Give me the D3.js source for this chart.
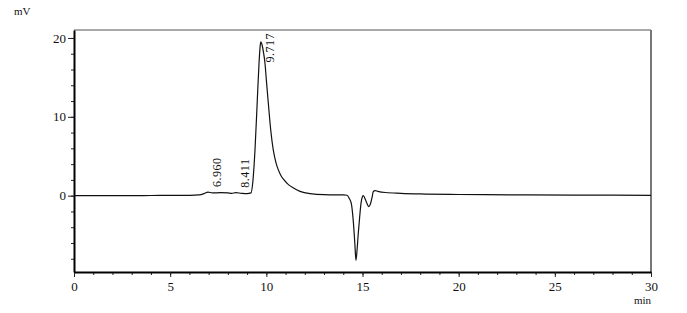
<!DOCTYPE html>
<html>
<head>
<meta charset="utf-8">
<script src="https://cdn.jsdelivr.net/npm/d3@7"></script>
<style>
  body { margin: 0; background: #fff; }
  svg { display: block; }
  text { font-family: "Liberation Serif", "DejaVu Serif", serif; fill: #111; }
</style>
</head>
<body>
<div id="chromatogram"></div>
<script>
// detector signal (mV) against retention time (min)
var times = [0, 1, 2, 3, 4, 5, 6, 6.5, 6.8, 6.96, 7.2, 7.6, 8.0, 8.2, 8.411, 8.7, 9.0, 9.2,
    9.3, 9.41, 9.53, 9.62, 9.68, 9.717, 9.77, 9.85, 9.93, 10.01, 10.09, 10.23, 10.36, 10.5,
    10.62, 10.75, 10.92, 11.15, 11.39, 11.75, 12.27, 13.0, 14.0, 14.2, 14.3, 14.42, 14.52,
    14.6, 14.66, 14.72, 14.78, 14.85, 14.92, 15.0, 15.04, 15.15, 15.25, 15.33, 15.42, 15.5,
    15.56, 15.65, 15.8, 16.2, 17.0, 18.0, 20, 23, 26, 30];
var signal = [0, 0, 0, 0, 0.02, 0.03, 0.05, 0.1, 0.3, 0.45, 0.35, 0.38, 0.35, 0.3, 0.38, 0.3, 0.25, 0.35,
    1.8, 5.8, 12.1, 16.8, 19.0, 19.5, 19.2, 18.2, 16.8, 14.4, 12.1, 8.3, 5.8, 4.2,
    3.3, 2.6, 2.0, 1.4, 1.0, 0.55, 0.25, 0.12, 0.1, 0.05, -0.3, -1.0, -3.2,
    -6.0, -8.2, -6.8, -4.8, -2.8, -1.0, -0.1, 0.0, -0.5, -1.1, -1.4, -1.0, -0.2,
    0.5, 0.65, 0.55, 0.4, 0.3, 0.22, 0.15, 0.1, 0.08, 0.05];

// integrated peaks
var peakTimes = [6.960, 8.411, 9.717];
var peakLabels = ['6.960', '8.411', '9.717'];

var xMajor = [0, 5, 10, 15, 20, 25, 30];
var yMajor = [0, 10, 20];

var margin = { top: 30, right: 36, bottom: 41, left: 74 };
var width = 687, height = 313;
var w = width - margin.left - margin.right,
    h = height - margin.top - margin.bottom;

var x = d3.scaleLinear().domain([0, 30]).range([0, w]);
var y = d3.scaleLinear().domain([-9.68, 21.01]).range([h, 0]);

var svg = d3.select('#chromatogram').append('svg')
    .attr('width', width)
    .attr('height', height);

var g = svg.append('g')
    .attr('transform', 'translate(' + margin.left + ',' + margin.top + ')');

// top and right of the frame are drawn lighter
g.append('line').attr('x1', 0).attr('x2', w).attr('y1', 0).attr('y2', 0)
    .attr('stroke', '#555').attr('stroke-width', 1.2);
g.append('line').attr('x1', w).attr('x2', w).attr('y1', 0).attr('y2', h)
    .attr('stroke', '#777').attr('stroke-width', 2);

// minor ticks first (every 1 min / every 2 mV), then the labelled axes
g.append('g')
    .attr('transform', 'translate(0,' + h + ')')
    .call(d3.axisBottom(x).tickValues(d3.range(0, 31, 1)).tickSize(3).tickFormat(''))
    .call(function(a) { a.select('.domain').remove(); });
g.append('g')
    .call(d3.axisLeft(y).tickValues(d3.range(-8, 21, 2)).tickSize(3).tickFormat(''))
    .call(function(a) { a.select('.domain').remove(); });

var xAxis = g.append('g')
    .attr('transform', 'translate(0,' + h + ')')
    .call(d3.axisBottom(x).tickValues(xMajor).tickSize(5).tickSizeOuter(0).tickPadding(5));
var yAxis = g.append('g')
    .call(d3.axisLeft(y).tickValues(yMajor).tickSize(6).tickSizeOuter(0).tickPadding(2));

[xAxis, yAxis].forEach(function(a) {
    a.select('.domain').attr('stroke', '#000').attr('stroke-width', 2);
    a.selectAll('text').style('font-size', '13px').style('font-family', '"Liberation Serif", serif').attr('fill', '#111');
});
g.selectAll('.tick line').attr('stroke', '#222');

// unit labels
svg.append('text')
    .attr('x', 14).attr('y', 15)
    .style('font-size', '11px')
    .text('mV');
svg.append('text')
    .attr('x', margin.left + w).attr('y', 304)
    .attr('text-anchor', 'end')
    .style('font-size', '11px')
    .text('min');

var pts = times.map(function(t, i) { return [t, signal[i]]; });

var line = d3.line()
    .x(function(d) { return x(d[0]); })
    .y(function(d) { return y(d[1]); })
    .curve(d3.curveMonotoneX);

g.append('path')
    .datum(pts)
    .attr('fill', 'none')
    .attr('stroke', '#111')
    .attr('stroke-width', 1.2)
    .attr('d', line);

// peak retention time labels, rotated, kept inside the frame
function signalAt(t) {
    var i = d3.bisectLeft(times, t);
    if (i <= 0) return signal[0];
    var t0 = times[i - 1], t1 = times[i];
    return signal[i - 1] + (signal[i] - signal[i - 1]) * (t - t0) / (t1 - t0);
}

peakTimes.forEach(function(t, i) {
    var px = x(t) + 13;
    var txt = g.append('text')
        .attr('text-anchor', 'start')
        .style('font-size', '12px')
        .style('letter-spacing', '0.5px')
        .text(peakLabels[i]);
    var len = txt.node().getComputedTextLength();
    var py = Math.max(y(signalAt(t)) - 5, 3 + len);
    txt.attr('transform', 'translate(' + px + ',' + py + ') rotate(-90)');
});
</script>
</body>
</html>
